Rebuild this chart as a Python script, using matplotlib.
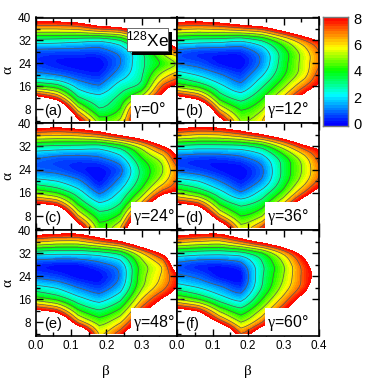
import numpy as np
import matplotlib
matplotlib.use("Agg")
import matplotlib.pyplot as plt
from matplotlib.colors import LinearSegmentedColormap
from matplotlib.patches import Rectangle
from matplotlib.ticker import MultipleLocator

plt.rcParams["font.family"] = ["Liberation Sans", "DejaVu Sans"]
plt.rcParams["mathtext.fontset"] = "custom"
plt.rcParams["mathtext.rm"] = "Liberation Sans"
plt.rcParams["mathtext.it"] = "Liberation Serif"
plt.rcParams["mathtext.default"] = "rm"

beta = [0.0, 0.06, 0.12, 0.18, 0.24, 0.30, 0.36, 0.40]
alpha = [4, 8, 12, 16, 20, 24, 28, 32, 36, 40]

# energy, one row per beta, alpha going up
e_a = [[18, 14, 9, 4.2, 1.4, 0.5, 0.7, 2.7, 6, 9.2],
       [16, 12, 7.2, 3.5, 1.0, 0.2, 0.6, 2.6, 6, 9.2],
       [8.6, 5.6, 3.2, 1.7, 0.5, 0.05, 0.6, 2.4, 6.2, 9.6],
       [4.5, 3.1, 2.3, 1.1, 0.3, 0, 0.6, 2.2, 7.0, 11],
       [5.2, 4.1, 3.3, 2.5, 1.5, 1.0, 1.3, 3.0, 7.5, 12],
       [10, 9, 5.5, 3.4, 2.9, 2.8, 3.0, 5.5, 9.5, 14],
       [15, 13, 9, 7.2, 5.4, 4.2, 5.4, 8.6, 12, 16],
       [17, 15, 11, 8.4, 6.5, 5.1, 7, 10, 13, 18]]
e_b = [[18, 13.5, 8.8, 4.7, 2.6, 0.97, 0.8, 2.8, 6.2, 9.2],
       [16, 12, 7.4, 3.8, 1.9, 0.7, 0.5, 2.6, 6, 9.2],
       [9, 6, 3.7, 2.3, 1.1, 0.15, 0.4, 2.5, 6.2, 9.6],
       [4.9, 3.9, 2.6, 1.3, 0.5, 0, 0.4, 2.2, 6.6, 10.7],
       [6, 4.9, 3.9, 2.9, 1.9, 1.2, 1.4, 3.1, 7.2, 12],
       [11, 8, 6.2, 4.8, 3.9, 3.6, 3.6, 5, 9, 14],
       [15, 12, 9, 7, 5.7, 5.5, 5.6, 7, 11, 16],
       [17, 14, 11, 8.4, 7.5, 6.9, 7, 8.2, 12.5, 18]]
e_c = [[18, 14, 8.6, 4.8, 2.4, 0.9, 1.1, 3, 6.4, 9.6],
       [16, 12.5, 7.6, 4, 2, 0.7, 0.8, 2.8, 6.2, 9.2],
       [9.5, 6.2, 4, 2.5, 1.2, 0.3, 0.7, 2.7, 6.4, 9.8],
       [4.4, 3.5, 2.2, 0.9, 0.1, 0.05, 0.9, 2.6, 7, 11],
       [6, 4.3, 3.1, 2.2, 1.3, 0.8, 1.7, 3.6, 8.4, 13],
       [13, 10, 6.5, 4.5, 3.5, 3.3, 4, 5.6, 10, 15],
       [17, 14, 11, 7.6, 5.6, 5.0, 5.6, 8, 12, 17],
       [19, 16, 13, 8.4, 7.2, 6.9, 8, 9.5, 14, 19]]
e_d = [[18, 13.5, 8.6, 4.9, 2.5, 0.8, 0.7, 2.8, 6.4, 9.6],
       [16, 11.5, 7.5, 3.9, 2, 0.5, 0.5, 2.6, 6, 9.2],
       [10.5, 6.4, 4, 2.4, 1.0, 0.15, 0.5, 2.6, 6.1, 9.5],
       [5.4, 4, 2.8, 1.1, 0.2, 0, 0.8, 2.7, 6.8, 10.7],
       [7.3, 5, 3.6, 2.4, 1.2, 0.9, 1.6, 3.5, 8, 12.6],
       [12, 9, 6.2, 4.4, 3.5, 3.3, 3.6, 5.6, 9.8, 15],
       [16, 13, 10, 7.2, 5.7, 5.3, 5.7, 7.8, 12, 17],
       [18, 15, 12, 9, 7.3, 6.9, 7.4, 8.7, 13, 18]]
e_e = [[18, 13.5, 8.5, 4.6, 2.4, 0.8, 0.4, 2.5, 6.2, 9.6],
       [16, 12, 7.4, 3.8, 1.9, 0.5, 0.2, 2.3, 5.8, 9.2],
       [12, 6.8, 4.2, 2.4, 1, 0.05, 0.2, 2.3, 5.8, 9.2],
       [5.9, 4.6, 3.1, 1.6, 0.5, 0.05, 0.7, 2.6, 6.8, 10.5],
       [7.6, 5.9, 4.3, 2.8, 1.6, 1.1, 1.5, 3.4, 8, 12.5],
       [11, 9, 7.5, 6, 4.9, 4.6, 4.6, 6, 10.4, 14],
       [15, 12.5, 10, 8.2, 6.7, 6.2, 6.3, 8.5, 13, 17],
       [19, 16, 13, 9.5, 8.1, 7.9, 9.5, 11, 15, 19]]
e_f = [[18, 13.6, 9, 5, 2.6, 1.2, 0.8, 2.8, 6.4, 9.6],
       [16, 11.5, 7.8, 4, 2, 0.8, 0.4, 2.5, 6, 9.2],
       [13, 7.8, 4.8, 2.6, 1.2, 0.1, 0.3, 2.4, 5.8, 9.2],
       [7, 5, 3.4, 1.7, 0.5, 0.05, 0.7, 2.7, 7, 10.9],
       [10, 7, 5.3, 4, 3.1, 2.9, 2.9, 4, 8.6, 13],
       [14, 11, 8, 6.4, 5.4, 5.0, 5, 6.3, 10.5, 15],
       [17, 14, 11, 9, 7.6, 7.4, 7.6, 9, 13, 18],
       [19, 16, 13, 11, 9.5, 8.6, 9.2, 11, 15, 19]]

energies = [e_a, e_b, e_c, e_d, e_e, e_f]
letters = ["(a)", "(b)", "(c)", "(d)", "(e)", "(f)"]
gammas = ["0", "12", "24", "36", "48", "60"]
cbar_ticks = [0, 2, 4, 6, 8]

levels = np.arange(0, 8.01, 0.2)
line_levels = [1, 2, 3, 4, 5, 6, 7]

cmap = LinearSegmentedColormap.from_list("rainbow8", [
    (0.0, (0, 0, 1)), (0.27, (0, 1, 1)), (0.5, (0, 1, 0)),
    (0.72, (1, 1, 0)), (1.0, (1, 0, 0))])

W = 390.0
H = 390.0
FINE = 5


def px_axes(x0, y0, x1, y1):
    # rectangle given in pixels from the top left corner
    return fig.add_axes([x0 / W, 1 - y1 / H, (x1 - x0) / W, (y1 - y0) / H])


def smooth_rows(m):
    # catmull-rom between the rows of m, so the contours are not so angular
    m = np.vstack([2 * m[0] - m[1], m, 2 * m[-1] - m[-2]])
    out = []
    for k in range(1, len(m) - 2):
        for t in np.arange(FINE) / FINE:
            out.append(0.5 * (2 * m[k] + (m[k + 1] - m[k - 1]) * t
                              + (2 * m[k - 1] - 5 * m[k] + 4 * m[k + 1] - m[k + 2]) * t ** 2
                              + (3 * m[k] - m[k - 1] - 3 * m[k + 1] + m[k + 2]) * t ** 3))
    out.append(m[-2])
    return np.array(out)


def fine_grid(z):
    # cubic along alpha, half cubic half straight along beta to keep the kink near 0.18
    n = len(beta)
    idx = np.linspace(0, n - 1, (n - 1) * FINE + 1)
    bf = np.interp(idx, np.arange(n), beta)
    af = np.linspace(alpha[0], alpha[-1], (len(alpha) - 1) * FINE + 1)
    zz = smooth_rows(z.T)
    curved = smooth_rows(zz.T).T
    straight = np.array([np.interp(idx, np.arange(n), row) for row in zz])
    return bf, af, 0.5 * curved + 0.5 * straight


fig = plt.figure(figsize=(3.9, 3.9), dpi=100)

lefts = [(35.5, 177), (177, 319)]
rows = [(17.5, 123), (123, 230), (230, 336)]
box_left = [0.675, 0.62, 0.675, 0.62, 0.675, 0.62]

for i in range(6):
    x0, x1 = lefts[i % 2]
    y0, y1 = rows[i // 2]
    ax = px_axes(x0, y0, x1, y1)
    z = np.array(energies[i], dtype=float)
    bf, af, zf = fine_grid(z)
    zf = np.clip(zf, 0, None)
    ax.contourf(bf, af, zf, levels=levels, cmap=cmap, vmin=0, vmax=8)
    ax.contour(bf, af, zf, levels=line_levels, colors="#555555", linewidths=0.5)
    ax.set_xlim(0, 0.4)
    ax.set_ylim(3.2, 40)
    ax.xaxis.set_major_locator(MultipleLocator(0.1))
    ax.xaxis.set_minor_locator(MultipleLocator(0.05))
    ax.yaxis.set_major_locator(MultipleLocator(8))
    ax.yaxis.set_minor_locator(MultipleLocator(4))
    ax.tick_params(which="major", direction="in", top=True, right=True, length=5,
                   width=1, labelsize=8.5, pad=3, zorder=6)
    ax.tick_params(which="minor", direction="in", top=True, right=True, length=3,
                   width=1, zorder=6)
    for sp in ax.spines.values():
        sp.set_linewidth(1.2)
        sp.set_zorder(7)

    if i % 2 == 0:
        ax.set_ylabel("α", family="Liberation Serif", fontsize=11, labelpad=3)
    else:
        ax.tick_params(which="both", labelleft=False)

    if i // 2 == 2:
        ticks = [0.0, 0.1, 0.2, 0.3] if i % 2 == 0 else [0.0, 0.1, 0.2, 0.3, 0.4]
        ax.set_xticks(ticks)
        ax.set_xticklabels(["%.1f" % t for t in ticks])
        ax.set_xlabel("β", family="Liberation Serif", fontsize=11, labelpad=9)
    else:
        ax.tick_params(which="both", labelbottom=False)

    # white box behind the gamma label
    ax.add_patch(Rectangle((box_left[i], 0), 1 - box_left[i], 0.265, transform=ax.transAxes,
                           facecolor="white", edgecolor="none", zorder=4))
    ax.text(box_left[i] + 0.015, 0.125, r"$\mathit{\gamma}$=" + gammas[i] + "°",
            transform=ax.transAxes, ha="left", va="center", fontsize=11.5, zorder=5)
    ax.text(0.06, 0.115, letters[i], transform=ax.transAxes, ha="left", va="center",
            fontsize=10.5, zorder=5)

    if i == 0:
        # nucleus label with drop shadow
        ax.add_patch(Rectangle((0.68, 0.645), 0.285, 0.22, transform=ax.transAxes,
                               facecolor="black", edgecolor="none", zorder=4))
        ax.add_patch(Rectangle((0.65, 0.68), 0.285, 0.22, transform=ax.transAxes,
                               facecolor="white", edgecolor="#555555", linewidth=0.6, zorder=5))
        ax.text(0.792, 0.79, r"$^{128}$Xe", transform=ax.transAxes, ha="center", va="center",
                fontsize=12.5, zorder=6)

# colour bar
cax = px_axes(323, 17, 348, 126)
bar_vals = np.arange(-0.2, 8.21, 0.2)
cax.pcolormesh([0, 1], bar_vals, ((bar_vals[:-1] + bar_vals[1:]) / 2).reshape(-1, 1),
               cmap=cmap, vmin=0, vmax=8)
cax.set_ylim(-0.2, 8.1)
cax.set_xticks([])
cax.yaxis.tick_right()
cax.set_yticks(cbar_ticks)
cax.tick_params(length=0, labelsize=10.5, pad=4)
for sp in cax.spines.values():
    sp.set_color("#777777")
    sp.set_linewidth(1.0)

fig.savefig("out.png", dpi=100)
